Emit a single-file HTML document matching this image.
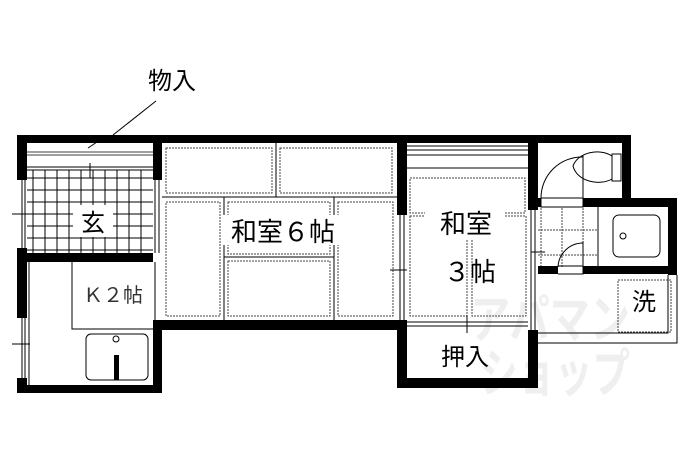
<!DOCTYPE html><html><head><meta charset="utf-8"><style>body{margin:0;background:#fff}svg{display:block}text{font-family:"Liberation Sans","Noto Sans CJK JP",sans-serif;fill:#000}</style></head><body>
<svg width="690" height="460" viewBox="0 0 690 460" xmlns="http://www.w3.org/2000/svg">
<rect width="690" height="460" fill="#fff"/>
<!-- watermark -->
<text x="470" y="338" font-size="52" font-weight="bold" style="fill:#efefef" textLength="160" lengthAdjust="spacingAndGlyphs">アパマン</text>
<text x="480" y="392" font-size="52" font-weight="bold" style="fill:#efefef" textLength="150" lengthAdjust="spacingAndGlyphs">ショップ</text>
<g stroke="#000" stroke-width="1" fill="none">
<path d="M27 167H153M27 170H153" />
<path d="M27 152H153M27 155H153" stroke-width="0.8"/>
</g>
<g stroke="#000" stroke-width="1" fill="none">
<path d="M27 178H153M27 190H153M27 202H153M27 214H153M27 226H153M27 238H153M27 250H153"/>
<path d="M33 170V253M45 170V253M57 170V253M69 170V253M81 170V253M93 170V253M105 170V253M117 170V253M129 170V253M141 170V253"/>
</g>
<rect x="73" y="205" width="40" height="32" fill="#fff"/>
<text x="93" y="231" font-size="24" text-anchor="middle">玄</text>
<g fill="none" stroke="#000" stroke-width="1">
<path d="M162 197H397M276 143V197M224 197V320M334 197V320M224 257H334"/>
</g>
<g fill="none" stroke="#444" stroke-width="1" stroke-dasharray="2,1">
<rect x="166" y="148" width="106" height="45"/><rect x="280" y="148" width="112" height="45"/>
<rect x="166" y="202" width="54" height="114"/><rect x="228" y="202" width="102" height="52"/>
<rect x="228" y="261" width="102" height="55"/><rect x="338" y="202" width="55" height="114"/>
<rect x="410" y="178" width="115" height="35"/><rect x="410" y="216" width="57" height="100"/><rect x="472" y="216" width="54" height="100"/>
<rect x="618" y="280" width="53" height="52"/>
<path d="M541 208V268M562 208V268M583 208V268M598 208V268M538 230H598M538 255H598"/>
</g>
<rect x="425" y="210" width="80" height="30" fill="#fff"/>
<rect x="222" y="215" width="125" height="30" fill="#fff"/>
<text x="283" y="241" font-size="26" text-anchor="middle">和室６帖</text>
<text x="466" y="233" font-size="26" text-anchor="middle">和室</text>
<text x="470" y="281" font-size="26" text-anchor="middle">３帖</text>
<g stroke="#000" stroke-width="1" fill="none">
<path d="M407 146H528M407 150H528M407 155H528M407 168H528"/>
<path d="M407 322H528M407 326H528M467 315V333"/>
<path d="M72 262V329H153"/>
<path d="M598 207V267"/>
</g>
<text x="113" y="302" font-size="20" text-anchor="middle" style="fill:#333">Ｋ２帖</text>
<text x="465" y="365" font-size="24" text-anchor="middle">押入</text>
<text x="644" y="310" font-size="24" text-anchor="middle">洗</text>
<text x="172" y="89" font-size="24" text-anchor="middle">物入</text>
<path d="M88 148L100 140M113 135L156 101M90 163V178" stroke="#000" stroke-width="1" fill="none"/>
<rect x="86" y="334" width="62" height="46" rx="5" fill="none" stroke="#000"/>
<circle cx="116" cy="339" r="3" fill="none" stroke="#000"/>
<rect x="114" y="355" width="5" height="25" fill="#000"/>
<rect x="613" y="215" width="47" height="42" rx="6" fill="none" stroke="#000"/>
<circle cx="623" cy="236" r="3" fill="none" stroke="#000"/>
<path d="M583 157 A41 41 0 0 0 541 198" fill="none" stroke="#000"/>
<path d="M583 155V198" stroke="#000"/>
<path d="M612 156 C600 148 578 152 573 166 C577 182 600 186 612 179" fill="none" stroke="#000"/>
<rect x="612" y="154" width="9" height="27" fill="#fff" stroke="#000"/>
<path d="M583 243 A25 25 0 0 0 558 267" fill="none" stroke="#000"/><path d="M583 241V267" stroke="#000"/>
<path d="M538 333H668V275M538 343H677V275" fill="none" stroke="#000"/>
<g fill="#000">
<rect x="17" y="135" width="614" height="8"/>
<rect x="17" y="135" width="10" height="45"/><rect x="17" y="248" width="10" height="70"/><rect x="17" y="378" width="10" height="15"/>
<rect x="17" y="253" width="136" height="9"/>
<rect x="17" y="385" width="145" height="8"/>
<rect x="153" y="135" width="9" height="45"/><rect x="153" y="320" width="9" height="73"/>
<rect x="153" y="320" width="254" height="10"/>
<rect x="397" y="135" width="10" height="80"/><rect x="397" y="320" width="10" height="68"/>
<rect x="397" y="378" width="141" height="10"/>
<rect x="528" y="135" width="10" height="75"/><rect x="528" y="330" width="10" height="58"/>
<rect x="622" y="135" width="9" height="72"/>
<rect x="583" y="198" width="94" height="9"/><rect x="538" y="198" width="3" height="9"/>
<rect x="668" y="198" width="9" height="77"/>
<rect x="538" y="266" width="20" height="8"/><rect x="583" y="266" width="94" height="8"/>
</g>
<g stroke="#000" stroke-width="1" fill="none">
<path d="M541 198H583V207H541Z M558 266H583V274H558"/>
<path d="M22 180V248M25 180V248M22 318V378M25 318V378M12 214H30M12 344H30"/>
<path d="M155 180V253M159 180V253M155 262V320"/>
<path d="M400 215V320M404 215V320M390 270H407"/>
<path d="M531 210V330M535 210V330M531 252H545"/>
<path d="M29 262V385"/>
</g>
</svg></body></html>
